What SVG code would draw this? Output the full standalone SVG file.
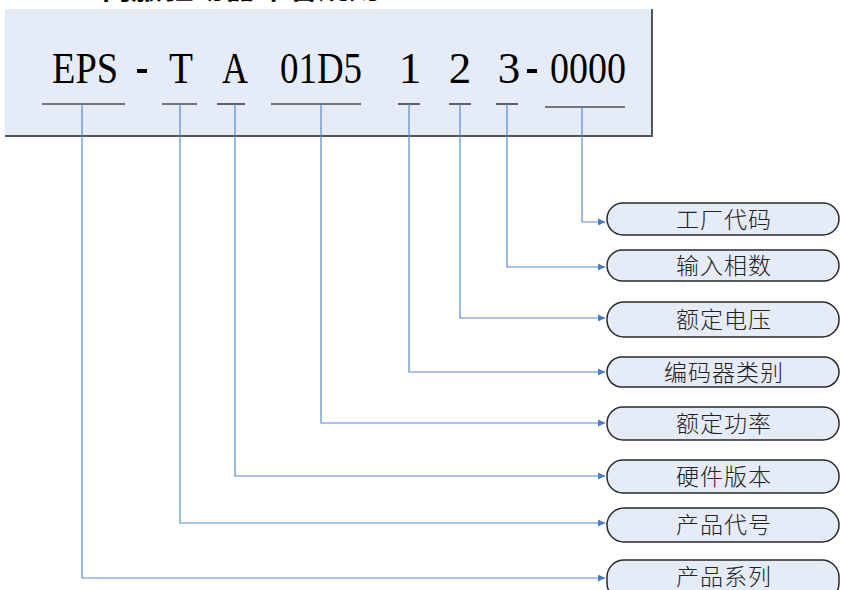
<svg xmlns="http://www.w3.org/2000/svg" width="841" height="590" viewBox="0 0 841 590">
<defs>
<style>
.code{font-family:"Liberation Serif","Times New Roman",serif;font-size:45px;fill:#000}
.ul{stroke:#000;stroke-width:1.2}
.pill{fill:#E6ECF7;stroke:#2a2a2a;stroke-width:1.5}
.lbl{font-family:"Noto Sans CJK SC","Noto Sans",sans-serif;font-size:23px;fill:#222;text-anchor:middle;font-weight:300;letter-spacing:1px}
.con{fill:none;stroke:#5A88CF;stroke-width:1.2}
.title{font-family:"Noto Sans CJK SC",sans-serif;font-size:26px;font-weight:bold;fill:#000}
</style>
<marker id="ah" markerWidth="8" markerHeight="8" refX="7" refY="4" orient="auto" markerUnits="userSpaceOnUse">
<path d="M0,0.5 L7.5,4 L0,7.5 Z" fill="#4A7CC8"/>
</marker>
</defs>
<text class="title" x="100" y="-1" textLength="280" lengthAdjust="spacingAndGlyphs">伺服驱动器命名规则</text>
<g id="codebox">
<rect x="5" y="9" width="647" height="127" fill="#E6ECF7"/>
<line x1="652" y1="9" x2="652" y2="137" stroke="#555" stroke-width="2"/>
<line x1="5" y1="136" x2="653" y2="136" stroke="#555" stroke-width="2"/>
<text class="code" x="52" y="83" textLength="66" lengthAdjust="spacingAndGlyphs">EPS</text>
<rect x="137" y="69" width="10" height="4" fill="#000"/>
<text class="code" x="169" y="83" textLength="24" lengthAdjust="spacingAndGlyphs">T</text>
<text class="code" x="222" y="83" textLength="26" lengthAdjust="spacingAndGlyphs">A</text>
<text class="code" x="280" y="83" textLength="82" lengthAdjust="spacingAndGlyphs">01D5</text>
<text class="code" x="410" y="83" text-anchor="middle">1</text>
<text class="code" x="460" y="83" text-anchor="middle">2</text>
<text class="code" x="509" y="83" text-anchor="middle">3</text>
<rect x="527" y="69" width="10" height="4" fill="#000"/>
<text class="code" x="550" y="83" textLength="76" lengthAdjust="spacingAndGlyphs">0000</text>
<line class="ul" x1="42" y1="104" x2="125" y2="104"/>
<line class="ul" x1="162" y1="104" x2="197" y2="104"/>
<line class="ul" x1="217" y1="104" x2="245" y2="104"/>
<line class="ul" x1="271" y1="104" x2="361" y2="104"/>
<line class="ul" x1="398" y1="104" x2="420" y2="104"/>
<line class="ul" x1="449" y1="104" x2="471" y2="104"/>
<line class="ul" x1="496" y1="104" x2="518" y2="104"/>
<line class="ul" x1="545" y1="107" x2="625" y2="107"/>
</g>
<g id="connectors">
<path class="con" d="M582,107 V222 H605" marker-end="url(#ah)"/>
<path class="con" d="M507,104 V267 H605" marker-end="url(#ah)"/>
<path class="con" d="M460,104 V318 H605" marker-end="url(#ah)"/>
<path class="con" d="M409,104 V372 H605" marker-end="url(#ah)"/>
<path class="con" d="M321,104 V423 H605" marker-end="url(#ah)"/>
<path class="con" d="M235,104 V476 H605" marker-end="url(#ah)"/>
<path class="con" d="M180,104 V523 H605" marker-end="url(#ah)"/>
<path class="con" d="M82,104 V578 H605" marker-end="url(#ah)"/>
</g>
<g id="n1"><rect class="pill" x="607" y="203" width="232" height="32" rx="16"/><text class="lbl" x="724" y="228">工厂代码</text></g>
<g id="n2"><rect class="pill" x="607" y="250" width="232" height="31" rx="15.5"/><text class="lbl" x="724" y="274">输入相数</text></g>
<g id="n3"><rect class="pill" x="607" y="302" width="232" height="35" rx="17"/><text class="lbl" x="724" y="328">额定电压</text></g>
<g id="n4"><rect class="pill" x="607" y="357" width="232" height="30" rx="15"/><text class="lbl" x="724" y="381">编码器类别</text></g>
<g id="n5"><rect class="pill" x="607" y="407" width="232" height="33" rx="16"/><text class="lbl" x="724" y="432">额定功率</text></g>
<g id="n6"><rect class="pill" x="607" y="460" width="232" height="33" rx="16"/><text class="lbl" x="724" y="485">硬件版本</text></g>
<g id="n7"><rect class="pill" x="607" y="508" width="232" height="34" rx="17"/><text class="lbl" x="724" y="533">产品代号</text></g>
<g id="n8"><rect class="pill" x="607" y="560" width="232" height="40" rx="17"/><text class="lbl" x="724" y="585">产品系列</text></g>
</svg>
